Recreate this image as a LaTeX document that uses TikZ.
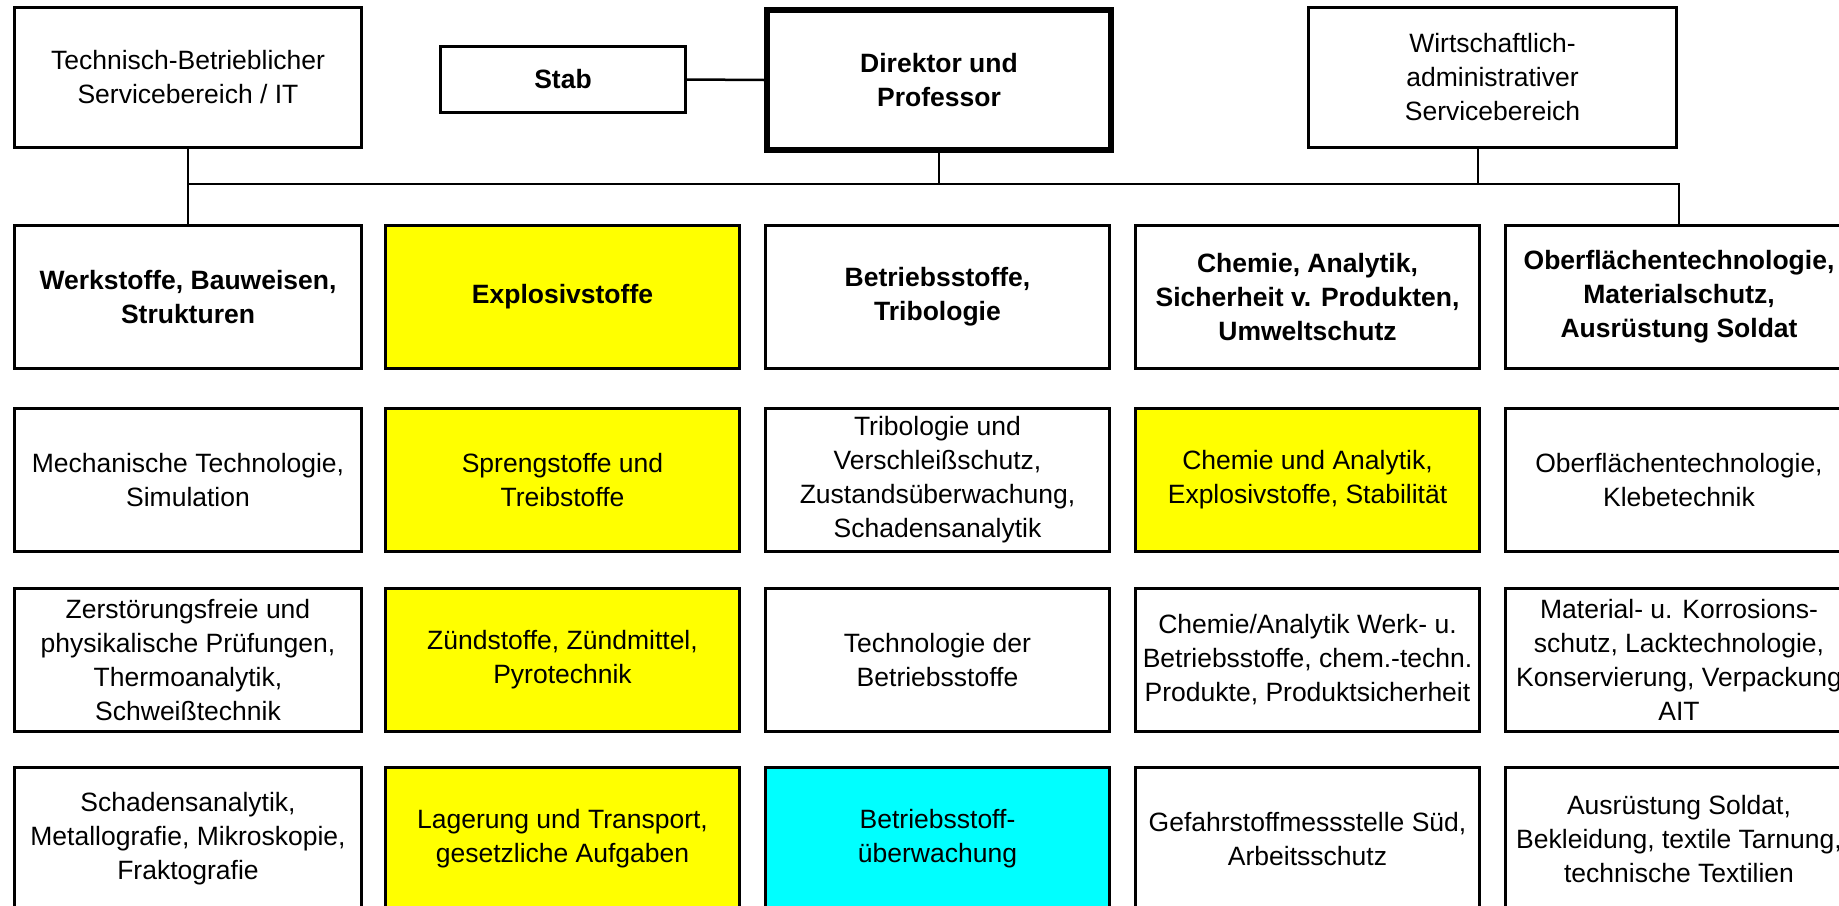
\documentclass[tikz,border=0pt]{standalone}
\usepackage{fontspec}
\setmainfont{Liberation Sans}
\definecolor{yel}{RGB}{255,255,0}
\definecolor{cya}{RGB}{0,255,255}
\newcommand\boxfont{\fontsize{26.5}{34}\selectfont}
\begin{document}
\begin{tikzpicture}[x=1pt,y=-1pt,
  box/.style={draw=black, line width=3pt, anchor=north west, inner sep=0pt,
    align=center, font=\boxfont, fill=white, minimum height=143},
  top/.style={box, minimum height=140},
  bold/.style={font=\boxfont\bfseries},
  yelbox/.style={fill=yel},
  cyabox/.style={fill=cya},
  wa/.style={minimum width=347},
  wb/.style={minimum width=354},
  wc/.style={minimum width=344},
  conn/.style={draw=black, line width=2.5pt}]
\useasboundingbox (0,0) rectangle (1839,905);
\clip (0,0) rectangle (1839,905);
\fill[white] (0,0) rectangle (1839,905);

% top row
\node[top, wa] (tech) at (13,6) {Technisch-Betrieblicher\\Servicebereich / IT};
\node[box, bold, minimum width=245, minimum height=66] (stab) at (439,45) {Stab};
\node[top, bold, wc, line width=6pt] (dir) at (764,7) {Direktor und\\Professor};
\node[top, minimum width=368] (wirt) at (1307,6) {Wirtschaftlich-\\administrativer\\Servicebereich};

% row 1
\node[box, bold, wa] (a1) at (13,224) {Werkstoffe, Bauweisen,\\Strukturen};
\node[box, bold, wb, yelbox] (b1) at (384,224) {Explosivstoffe};
\node[box, bold, wc] (c1) at (764,224) {Betriebsstoffe,\\Tribologie};
\node[box, bold, wc] (d1) at (1134,224) {Chemie, Analytik,\\Sicherheit v. Produkten,\\Umweltschutz};
\node[box, bold, wa] (e1) at (1504,224) {Oberflächentechnologie,\\Materialschutz,\\Ausrüstung Soldat};

% row 2
\node[box, wa] (a2) at (13,407) {Mechanische Technologie,\\Simulation};
\node[box, wb, yelbox] (b2) at (384,407) {Sprengstoffe und\\Treibstoffe};
\node[box, wc] (c2) at (764,407) {Tribologie und\\Verschleißschutz,\\Zustandsüberwachung,\\Schadensanalytik};
\node[box, wc, yelbox] (d2) at (1134,407) {Chemie und Analytik,\\Explosivstoffe, Stabilität};
\node[box, wa] (e2) at (1504,407) {Oberflächentechnologie,\\Klebetechnik};

% row 3
\node[box, wa] (a3) at (13,587) {Zerstörungsfreie und\\physikalische Prüfungen,\\Thermoanalytik,\\Schweißtechnik};
\node[box, wb, yelbox] (b3) at (384,587) {Zündstoffe, Zündmittel,\\Pyrotechnik};
\node[box, wc] (c3) at (764,587) {Technologie der\\Betriebsstoffe};
\node[box, wc] (d3) at (1134,587) {Chemie/Analytik Werk- u.\\Betriebsstoffe, chem.-techn.\\Produkte, Produktsicherheit};
\node[box, wa] (e3) at (1504,587) {Material- u. Korrosions-\\schutz, Lacktechnologie,\\Konservierung, Verpackung\\AIT};

% row 4
\node[box, wa] (a4) at (13,766) {Schadensanalytik,\\Metallografie, Mikroskopie,\\Fraktografie};
\node[box, wb, yelbox] (b4) at (384,766) {Lagerung und Transport,\\gesetzliche Aufgaben};
\node[box, wc, cyabox] (c4) at (764,766) {Betriebsstoff-\\überwachung};
\node[box, wc] (d4) at (1134,766) {Gefahrstoffmessstelle Süd,\\Arbeitsschutz};
\node[box, wa] (e4) at (1504,766) {Ausrüstung Soldat,\\Bekleidung, textile Tarnung,\\technische Textilien};

% connectors
\coordinate (busL) at (a1.north |- 0,184);
\coordinate (busR) at (e1.north |- 0,184);
\coordinate (wtap) at (1478,0 |- wirt.south);
\draw[conn] (stab.east) -- (dir.west);
\draw[conn] (tech.south) -- (a1.north);
\draw[conn] (dir.south) -- (dir.south |- busL);
\draw[conn] (wtap) -- (wtap |- busL);
\draw[conn] (busL) -- (busR) -- (e1.north);
\end{tikzpicture}
\end{document}
